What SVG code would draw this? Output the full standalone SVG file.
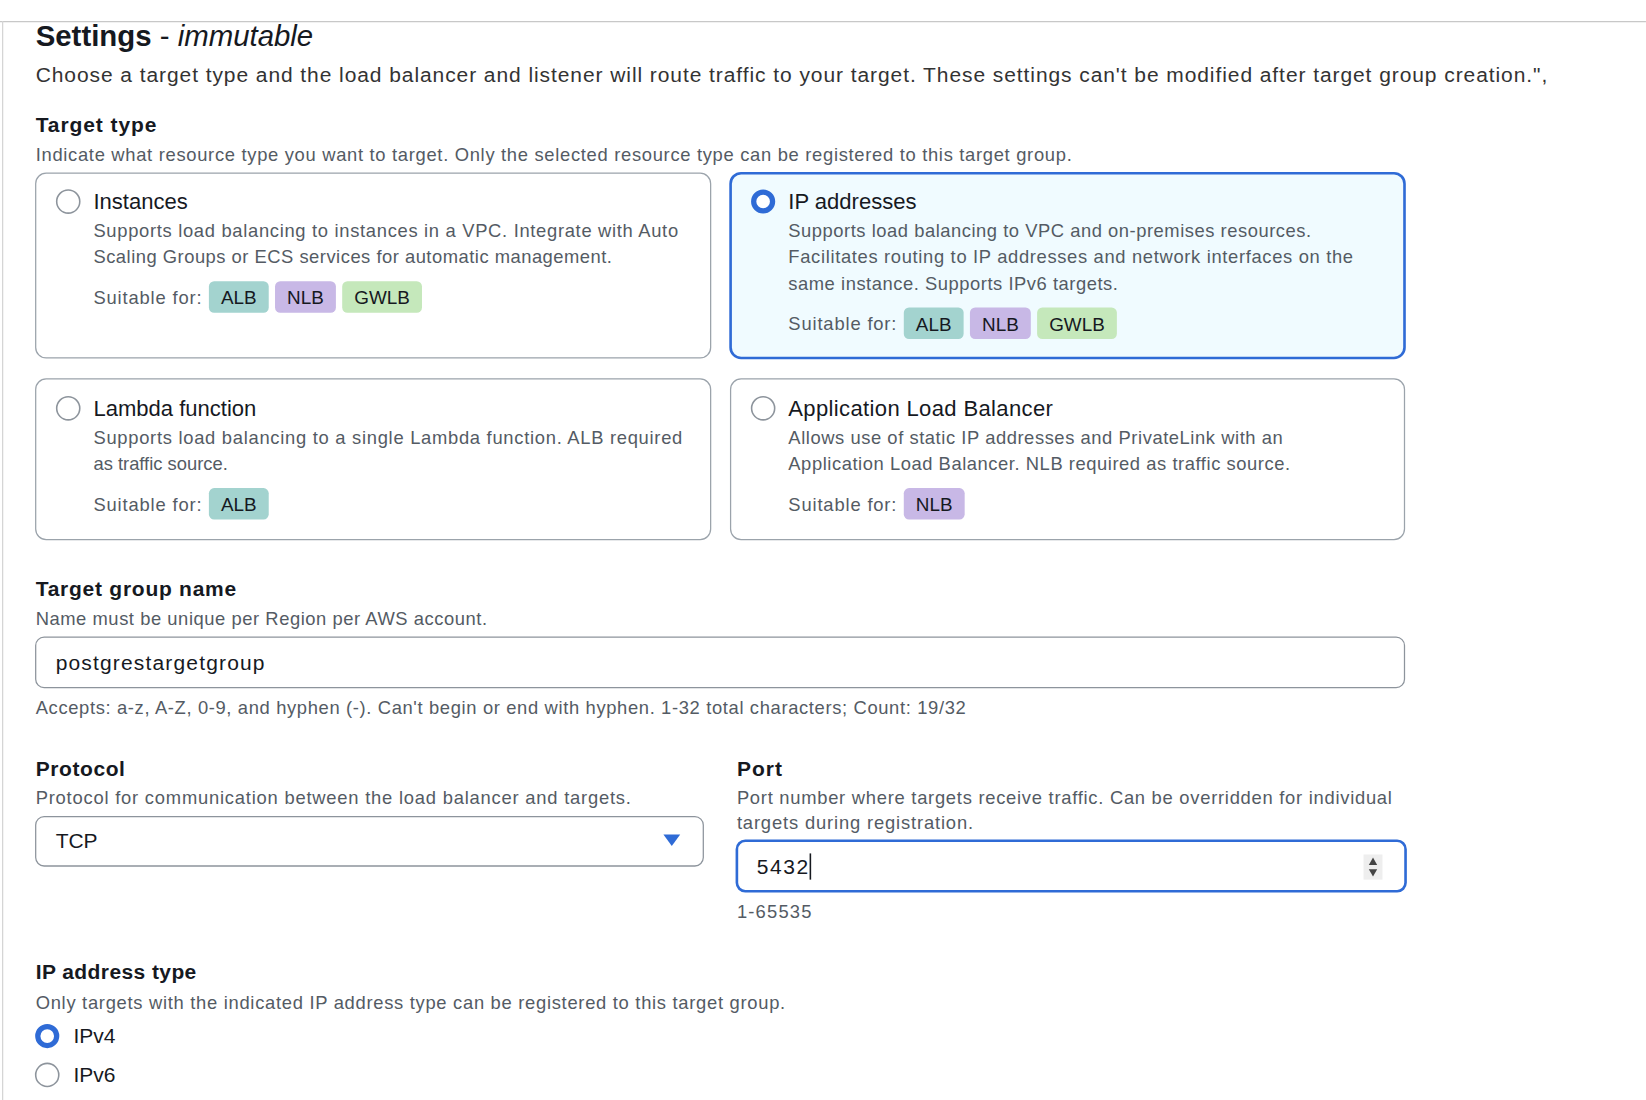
<svg xmlns="http://www.w3.org/2000/svg" width="1646" height="1100" viewBox="0 0 1646 1100">
<style>
text{font-family:"Liberation Sans",Arial,sans-serif;fill:#16191f}
.h{font-weight:bold;font-size:20px}
.d{font-size:17.5px;fill:#545b64}
.t{font-size:21px}
.card{fill:#fff;stroke:#9ba3ab;stroke-width:1.2}
.sel{fill:#f0fbff;stroke:#2f6bd6;stroke-width:2.5}
.rad{fill:#fff;stroke:#8d949c;stroke-width:1.5}
.alb{fill:#a3d3cf}.nlb{fill:#c8b8e6}.gw{fill:#c5e8bb}
.b{font-size:18px;fill:#16191f}
.in{fill:#fff;stroke:#8d949c;stroke-width:1.2}
</style>
<rect width="1646" height="1100" fill="#fff"/>
<g transform="scale(1.0497)">
<g id="frame"><line x1="0" y1="20.5" x2="1568" y2="20.5" stroke="#c8c8c8" stroke-width="1.2"/><line x1="2.5" y1="20" x2="2.5" y2="1048" stroke="#d5d5d5" stroke-width="1.2"/></g>
<g id="header">
<text x="34" y="44" style="font-size:28px;font-weight:bold">Settings<tspan style="font-weight:normal"> - </tspan><tspan style="font-weight:normal;font-style:italic">immutable</tspan></text>
<text x="34" y="78" style="font-size:20px;fill:#333" textLength="1440">Choose a target type and the load balancer and listener will route traffic to your target. These settings can't be modified after target group creation.",</text>
<text x="34" y="126" class="h" textLength="115">Target type</text>
<text x="34" y="153" class="d" textLength="987">Indicate what resource type you want to target. Only the selected resource type can be registered to this target group.</text>
</g>
<g id="card-instances">
<rect x="34" y="165" width="643" height="176" rx="10" class="card"/>
<circle cx="65" cy="192" r="11" class="rad"/>
<text x="89" y="199" class="t">Instances</text>
<text x="89" y="226" class="d" textLength="557">Supports load balancing to instances in a VPC. Integrate with Auto</text>
<text x="89" y="251" class="d" textLength="494">Scaling Groups or ECS services for automatic management.</text>
<text x="89" y="290" class="d" textLength="103">Suitable for:</text>
<rect x="199" y="268" width="57" height="30" rx="5" class="alb"/><text x="227.5" y="290" class="b" text-anchor="middle">ALB</text>
<rect x="262" y="268" width="58" height="30" rx="5" class="nlb"/><text x="291" y="290" class="b" text-anchor="middle">NLB</text>
<rect x="326" y="268" width="76" height="30" rx="5" class="gw"/><text x="364" y="290" class="b" text-anchor="middle">GWLB</text>
</g>
<g id="card-ip">
<rect x="696" y="165" width="642" height="176" rx="10" class="sel"/>
<circle cx="727" cy="192" r="9" fill="#fff" stroke="#2f6bd6" stroke-width="5"/>
<text x="751" y="199" class="t">IP addresses</text>
<text x="751" y="226" class="d" textLength="498">Supports load balancing to VPC and on-premises resources.</text>
<text x="751" y="251" class="d" textLength="538">Facilitates routing to IP addresses and network interfaces on the</text>
<text x="751" y="276" class="d" textLength="314">same instance. Supports IPv6 targets.</text>
<text x="751" y="314" class="d" textLength="103">Suitable for:</text>
<rect x="861" y="293" width="57" height="30" rx="5" class="alb"/><text x="889.5" y="315" class="b" text-anchor="middle">ALB</text>
<rect x="924" y="293" width="58" height="30" rx="5" class="nlb"/><text x="953" y="315" class="b" text-anchor="middle">NLB</text>
<rect x="988" y="293" width="76" height="30" rx="5" class="gw"/><text x="1026" y="315" class="b" text-anchor="middle">GWLB</text>
</g>
<g id="card-lambda">
<rect x="34" y="361" width="643" height="153" rx="10" class="card"/>
<circle cx="65" cy="389" r="11" class="rad"/>
<text x="89" y="396" class="t">Lambda function</text>
<text x="89" y="423" class="d" textLength="561">Supports load balancing to a single Lambda function. ALB required</text>
<text x="89" y="448" class="d">as traffic source.</text>
<text x="89" y="487" class="d" textLength="103">Suitable for:</text>
<rect x="199" y="465" width="57" height="30" rx="5" class="alb"/><text x="227.5" y="487" class="b" text-anchor="middle">ALB</text>
</g>
<g id="card-alb">
<rect x="696" y="361" width="642" height="153" rx="10" class="card"/>
<circle cx="727" cy="389" r="11" class="rad"/>
<text x="751" y="396" class="t" textLength="252">Application Load Balancer</text>
<text x="751" y="423" class="d" textLength="471">Allows use of static IP addresses and PrivateLink with an</text>
<text x="751" y="448" class="d" textLength="478">Application Load Balancer. NLB required as traffic source.</text>
<text x="751" y="487" class="d" textLength="103">Suitable for:</text>
<rect x="861" y="465" width="58" height="30" rx="5" class="nlb"/><text x="890" y="487" class="b" text-anchor="middle">NLB</text>
</g>
<g id="name-field">
<text x="34" y="568" class="h" textLength="191">Target group name</text>
<text x="34" y="595" class="d" textLength="430">Name must be unique per Region per AWS account.</text>
<rect x="34" y="607" width="1304" height="48" rx="8" class="in"/>
<text x="53" y="638" style="font-size:20px" textLength="199">postgrestargetgroup</text>
<text x="34" y="680" class="d" textLength="886">Accepts: a-z, A-Z, 0-9, and hyphen (-). Can't begin or end with hyphen. 1-32 total characters; Count: 19/32</text>
</g>
<g id="protocol-field">
<text x="34" y="739" class="h" textLength="85">Protocol</text>
<text x="34" y="766" class="d" textLength="567">Protocol for communication between the load balancer and targets.</text>
<rect x="34" y="778" width="636" height="47" rx="8" class="in"/>
<text x="53" y="808" style="font-size:20px">TCP</text>
<polygon points="632,795 648,795 640,806" fill="#2f6bd6"/>
</g>
<g id="port-field">
<text x="702" y="739" class="h" textLength="43">Port</text>
<text x="702" y="766" class="d" textLength="624">Port number where targets receive traffic. Can be overridden for individual</text>
<text x="702" y="790" class="d" textLength="225">targets during registration.</text>
<rect x="702" y="801" width="637" height="48" rx="8" fill="#fff" stroke="#2f6bd6" stroke-width="2.5"/>
<text x="721" y="833" style="font-size:20px" textLength="49">5432</text>
<line x1="772" y1="813" x2="772" y2="838" stroke="#16191f" stroke-width="1.5"/>
<rect x="1299" y="814" width="18" height="24" fill="#eee"/>
<polygon points="1308,817 1304,824 1312,824" fill="#444"/><polygon points="1308,835 1304,828 1312,828" fill="#444"/>
<text x="702" y="875" class="d" textLength="71">1-65535</text>
</g>
<g id="ip-type">
<text x="34" y="933" class="h" textLength="153">IP address type</text>
<text x="34" y="961" class="d" textLength="714">Only targets with the indicated IP address type can be registered to this target group.</text>
<circle cx="45" cy="987" r="9" fill="#fff" stroke="#2f6bd6" stroke-width="5"/>
<text x="70" y="994" style="font-size:20px">IPv4</text>
<circle cx="45" cy="1024" r="11" class="rad"/>
<text x="70" y="1031" style="font-size:20px">IPv6</text>
</g>
</g>
</svg>
